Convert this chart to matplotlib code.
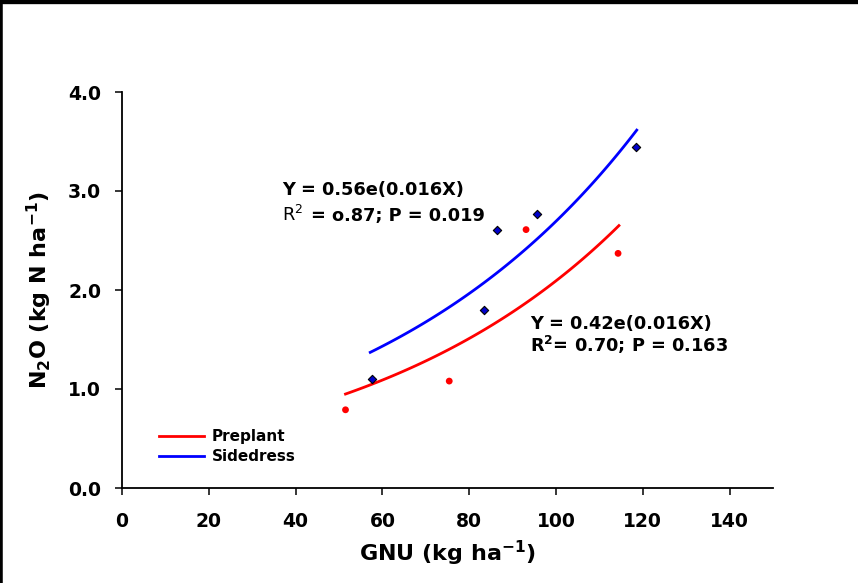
import matplotlib
matplotlib.use("Agg")
import matplotlib.pyplot as plt
import numpy as np
from matplotlib.lines import Line2D

plt.rcParams['font.family'] = ['DejaVu Sans']
plt.rcParams['mathtext.fontset'] = 'dejavusans'

# Preplant (red circles)
pre_x = [51.5, 75.4, 93.1, 114.3]
pre_y = [0.79, 1.08, 2.61, 2.37]
# Sidedress (blue diamonds)
side_x = [57.5, 83.4, 86.4, 95.6, 118.4]
side_y = [1.10, 1.80, 2.61, 2.77, 3.44]

# exponential fits y = a*exp(b*x), ranges as drawn
pre_a, pre_b, pre_range = 0.41, 0.0163, (51.5, 114.5)
side_a, side_b, side_range = 0.555, 0.0158, (57.2, 118.6)

xticks = [0, 20, 40, 60, 80, 100, 120, 140]
yticks = [0.0, 1.0, 2.0, 3.0, 4.0]

fig = plt.figure(figsize=(8.58, 5.83), dpi=100)
ax = fig.add_axes([122/858, 1-488/583, (773-122)/858, (488-92)/583])

xf = np.linspace(*pre_range, 100)
ax.plot(xf, pre_a*np.exp(pre_b*xf), color='#ff0000', lw=2, label='Preplant')
xf = np.linspace(*side_range, 100)
ax.plot(xf, side_a*np.exp(side_b*xf), color='#0000ff', lw=2, label='Sidedress')

ax.scatter(pre_x, pre_y, s=24, color='#ff0000', edgecolors='none', zorder=3)
ax.scatter(side_x, side_y, s=18, marker='D', color='#0000cc',
           edgecolors='black', linewidths=0.8, zorder=3)

ax.set_xlim(0, 150)
ax.set_ylim(0, 4)
ax.set_xticks(xticks)
ax.set_yticks(yticks)
ax.set_yticklabels([f"{v:.1f}" for v in yticks])
for s in ['top', 'right']:
    ax.spines[s].set_visible(False)
for s in ['left', 'bottom']:
    ax.spines[s].set_linewidth(1.3)
ax.tick_params(direction='out', length=5, width=1.1, labelsize=13.5)
ax.tick_params(axis='x', pad=12)
ax.tick_params(axis='y', pad=10)
for lab in ax.get_xticklabels() + ax.get_yticklabels():
    lab.set_fontweight('bold')

ax.set_xlabel('GNU (kg ha$^{\\mathbf{-1}}$)', fontsize=16, fontweight='bold', labelpad=6)
ax.set_ylabel('N$_{\\mathbf{2}}$O (kg N ha$^{\\mathbf{-1}}$)', fontsize=16,
              fontweight='bold', labelpad=10)

# annotations
ax.text(36.8, 2.96, 'Y = 0.56e(0.016X)', fontsize=12.8, fontweight='bold')
ax.text(36.8, 2.70, 'R$^{2}$', fontsize=12.8)
ax.text(43.5, 2.70, '= o.87; P = 0.019', fontsize=12.8, fontweight='bold')
ax.text(94.0, 1.61, 'Y = 0.42e(0.016X)', fontsize=12.8, fontweight='bold')
ax.text(94.0, 1.37, 'R$^{\\mathbf{2}}$= 0.70; P = 0.163', fontsize=12.8, fontweight='bold')

leg = ax.legend(loc='lower left', bbox_to_anchor=(0.035, 0.025), frameon=False,
                fontsize=11, handlelength=3.0, handletextpad=0.5, labelspacing=0.35)
for t in leg.get_texts():
    t.set_fontweight('bold')

# figure border (top and left)
fig.add_artist(Line2D([0, 1], [1, 1], transform=fig.transFigure, color='black', lw=6))
fig.add_artist(Line2D([0, 0], [0, 1], transform=fig.transFigure, color='black', lw=4))

fig.savefig('out.png', dpi=100)
